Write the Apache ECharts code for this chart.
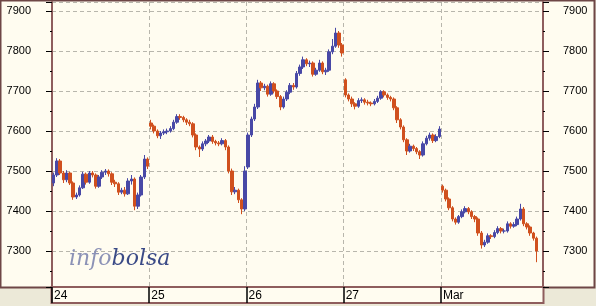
<!DOCTYPE html>
<html><head><meta charset="utf-8">
<script src="https://cdn.jsdelivr.net/npm/echarts@6/dist/echarts.min.js"></script>
<style>html,body{margin:0;padding:0;background:#ECE9D8;}#c{width:596px;height:306px;}</style>
</head><body><div id="c"></div>
<script>
const dayLabels = ['24','25','26','27','Mar'];
const yTicks = [7300,7400,7500,7600,7700,7800,7900];
// [open, close, low, high] per intraday bar
const day24 = [
[7470,7490,7462,7496],[7490,7525,7485,7532],[7525,7495,7490,7530],[7495,7478,7470,7500],[7478,7495,7472,7502],
[7495,7470,7465,7498],[7470,7435,7428,7474],[7435,7440,7430,7446],[7440,7458,7436,7464],[7458,7492,7455,7498],
[7492,7472,7466,7496],[7472,7495,7468,7500],[7495,7490,7484,7500],[7490,7462,7456,7494],[7462,7485,7458,7490],
[7485,7497,7480,7502],[7497,7500,7490,7505],[7500,7493,7486,7504],[7493,7472,7465,7497],[7472,7468,7460,7478],
[7468,7447,7440,7472],[7447,7452,7442,7458],[7452,7443,7436,7460],[7443,7475,7440,7482],[7475,7480,7466,7490],
[7480,7412,7402,7484],[7412,7440,7405,7446],[7440,7485,7436,7490],[7485,7530,7480,7540],[7530,7512,7505,7534]
];
const day25 = [
[7620,7612,7604,7628],[7612,7600,7594,7616],[7600,7588,7582,7604],[7588,7595,7580,7600],[7595,7598,7590,7604],
[7598,7600,7592,7606],[7600,7606,7596,7612],[7606,7622,7602,7628],[7622,7636,7618,7642],[7636,7634,7628,7642],
[7634,7628,7622,7638],[7628,7622,7615,7632],[7622,7618,7612,7628],[7618,7590,7584,7622],[7590,7560,7552,7594],
[7560,7555,7535,7564],[7555,7568,7550,7574],[7568,7575,7562,7580],[7575,7585,7570,7590],[7585,7574,7568,7590],
[7574,7570,7564,7578],[7570,7568,7562,7575],[7568,7576,7564,7582],[7576,7560,7552,7580],[7560,7500,7494,7564],
[7500,7448,7440,7506],[7448,7452,7442,7460],[7452,7428,7420,7456],[7428,7405,7392,7432],[7405,7500,7400,7512]
];
const day26 = [
[7510,7590,7505,7596],[7590,7630,7585,7636],[7630,7660,7625,7668],[7660,7720,7655,7728],[7720,7708,7700,7725],
[7708,7712,7702,7718],[7712,7692,7686,7716],[7692,7718,7688,7724],[7718,7700,7694,7722],[7700,7686,7680,7704],
[7686,7660,7652,7690],[7660,7680,7656,7686],[7680,7697,7675,7702],[7697,7714,7692,7720],[7714,7710,7703,7720],
[7710,7744,7706,7750],[7744,7760,7738,7766],[7760,7778,7755,7786],[7778,7768,7762,7782],[7768,7770,7760,7776],
[7770,7742,7736,7774],[7742,7752,7738,7758],[7752,7770,7748,7778],[7770,7748,7742,7774],[7748,7752,7740,7758],
[7752,7798,7748,7804],[7798,7812,7792,7830],[7812,7845,7808,7858],[7845,7815,7808,7850],[7815,7795,7786,7820]
];
const day27 = [
[7728,7690,7684,7732],[7690,7680,7674,7694],[7680,7668,7660,7686],[7668,7662,7654,7672],[7662,7676,7658,7682],
[7676,7678,7670,7684],[7678,7672,7666,7682],[7672,7670,7664,7678],[7670,7668,7662,7674],[7668,7674,7664,7680],
[7674,7682,7670,7688],[7682,7698,7678,7702],[7698,7690,7684,7702],[7690,7684,7678,7694],[7684,7680,7674,7688],
[7680,7658,7652,7684],[7658,7628,7620,7662],[7628,7610,7604,7632],[7610,7578,7572,7614],[7578,7550,7540,7582],
[7550,7562,7546,7568],[7562,7556,7550,7566],[7556,7548,7542,7560],[7548,7540,7530,7552],[7540,7568,7536,7574],
[7568,7582,7564,7588],[7582,7590,7576,7596],[7590,7576,7570,7594],[7576,7586,7572,7592],[7586,7605,7582,7612]
];
const dayMar = [
[7462,7452,7446,7466],[7452,7430,7424,7456],[7430,7408,7402,7434],[7408,7380,7374,7412],[7380,7372,7366,7384],
[7372,7386,7368,7390],[7386,7398,7382,7404],[7398,7406,7394,7412],[7406,7398,7392,7410],[7398,7386,7380,7402],
[7386,7380,7372,7390],[7380,7345,7338,7384],[7345,7315,7306,7350],[7315,7322,7310,7328],[7322,7338,7318,7344],
[7338,7336,7330,7342],[7336,7346,7332,7352],[7346,7356,7342,7362],[7356,7350,7344,7360],[7350,7350,7344,7356],
[7350,7368,7346,7374],[7368,7362,7356,7372],[7362,7366,7358,7372],[7366,7380,7362,7386],[7380,7405,7376,7418],
[7405,7368,7362,7410],[7368,7360,7354,7372],[7360,7345,7338,7364],[7345,7332,7326,7348],[7332,7300,7272,7336]
];
const days = [day24, day25, day26, day27, dayMar];

const candles = [];
days.forEach((bars, d) => {
  bars.forEach((b, j) => {
    candles.push([d + (j + 0.5) / bars.length, b[0], b[1], b[2], b[3]]);
  });
});

const cream = '#FFFCF0';
const frame = '#6E4646';
const axisBrown = '#8E5D5D';
const labelFont = {color:'#000', fontFamily:'Liberation Sans, Arial, sans-serif', fontSize:11};

function yAxis(pos, margin){
  return {
    type:'value', position:pos, min:7210, max:7922.5, splitNumber:7,
    axisLine:{show:true, lineStyle:{color:axisBrown, width:2}},
    axisTick:{show:true, length:6, lineStyle:{color:'#000'}},
    minorTick:{show:true, splitNumber:2, length:2, lineStyle:{color:'#000'}},
    splitLine:{show:pos==='left', lineStyle:{color:'#B8B6AC', type:[4,3], width:1}},
    axisLabel:Object.assign({margin:margin, showMinLabel:false, showMaxLabel:false,
      formatter: v => yTicks.indexOf(v) >= 0 ? String(v) : ''}, labelFont)
  };
}

const chart = echarts.init(document.getElementById('c'), null, {renderer:'canvas'});
chart.setOption({
  animation:false,
  backgroundColor:'transparent',
  graphic:[
    {type:'rect', z:-10, shape:{x:0.5, y:0.5, width:594, height:287}, style:{fill:cream, stroke:frame, lineWidth:2}},
    {type:'rect', z:-10, shape:{x:51.5, y:287, width:492, height:16}, style:{fill:cream, stroke:axisBrown, lineWidth:2}},
    {type:'text', z:5, x:69, y:259, style:{
      text:'{a|info}{b|bolsa}', verticalAlign:'middle',
      rich:{
        a:{fill:'#8C92B6', fontFamily:'DejaVu Serif', fontStyle:'italic', fontSize:22},
        b:{fill:'#3A4A86', fontFamily:'DejaVu Serif', fontStyle:'italic', fontSize:22}
      }}}
  ],
  grid:{left:52, right:53, top:2, bottom:19, containLabel:false},
  xAxis:{
    type:'value', min:0, max:5.05,
    axisLine:{show:true, onZero:false, lineStyle:{color:axisBrown, width:2}},
    axisTick:{show:true, length:16, customValues:[0,1,2,3,4], lineStyle:{color:'#000', width:1.5}},
    splitLine:{show:true, lineStyle:{color:'#B8B6AC', type:[4,3], width:1}},
    axisLabel:Object.assign({customValues:[0,1,2,3,4], margin:3, align:'left', padding:[0,0,0,2], fontSize:12,
      formatter: v => dayLabels[Math.round(v)] || ''}, {color:'#000', fontFamily:'Liberation Sans, Arial, sans-serif'})
  },
  yAxis:[yAxis('left',21), yAxis('right',20)],
  series:[{
    type:'candlestick', yAxisIndex:0, barWidth:3,
    data:candles,
    itemStyle:{color:'#4848A6', color0:'#D0501E', borderColor:'#4848A6', borderColor0:'#D0501E', borderWidth:1}
  }]
});
</script></body></html>
